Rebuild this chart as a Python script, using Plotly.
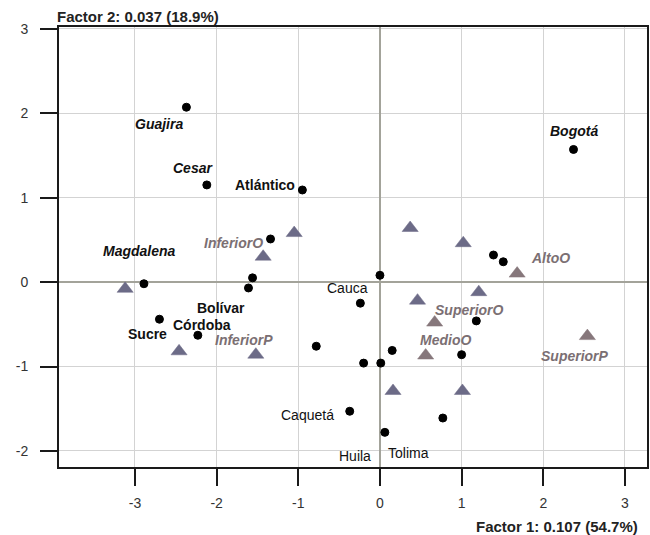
import plotly.graph_objects as go

# Department scores on the first two factors
dept_x = [-2.37, -2.12, -0.95, -1.34, -1.56, -1.61, -2.89, -2.70, -2.23, -0.78,
          0.00, -0.24, 1.39, 1.51, 1.18, 0.15, 1.00, -0.20, 0.01, -0.37,
          0.77, 0.06, 2.37]
dept_y = [2.07, 1.15, 1.09, 0.51, 0.05, -0.07, -0.02, -0.44, -0.63, -0.76,
          0.08, -0.25, 0.32, 0.24, -0.46, -0.81, -0.86, -0.96, -0.96, -1.53,
          -1.61, -1.78, 1.57]

# Modality scores (two groups of triangles)
mod_a_x = [-3.12, -1.43, -1.05, -2.46, -1.52, 0.37, 1.02, 1.21, 0.46, 0.16, 1.01]
mod_a_y = [-0.08, 0.30, 0.58, -0.82, -0.86, 0.64, 0.46, -0.12, -0.22, -1.29, -1.29]
mod_b_x = [1.68, 0.67, 0.56, 2.54]
mod_b_y = [0.10, -0.48, -0.87, -0.64]

# Point labels: text, position, style
lab_text = ["Guajira", "Cesar", "Atlántico", "Bogotá", "Magdalena", "Bolívar",
            "Córdoba", "Sucre", "Cauca", "Caquetá", "Huila", "Tolima",
            "InferiorO", "InferiorP", "AltoO", "SuperiorO", "MedioO", "SuperiorP"]
lab_x = [-2.71, -2.29, -1.41, 2.38, -2.94, -1.95, -2.18, -2.85, -0.40, -0.89,
         -0.30, 0.35, -1.79, -1.67, 2.09, 1.10, 0.80, 2.39]
lab_y = [1.87, 1.35, 1.15, 1.79, 0.37, -0.31, -0.51, -0.62, -0.07, -1.58,
         -2.06, -2.02, 0.46, -0.69, 0.29, -0.33, -0.69, -0.87]
lab_style = ["bi", "bi", "b", "bi", "bi", "b", "b", "b", "r", "r", "r", "r",
             "m", "m", "m", "m", "m", "m"]

x_ticks = [-3, -2, -1, 0, 1, 2, 3]
x_tick_text = ["-3", "-2", "-1", "0", "1", "2", "3"]
y_ticks = [-2, -1, 0, 1, 2, 3]
y_tick_text = ["-2", "-1", "0", "1", "2", "3"]

FONT = "Arial, Liberation Sans, sans-serif"
BLUE = "#6c6b87"
BROWN = "#86777b"
MOD_TEXT = "#7b6f73"

fig = go.Figure()

fig.add_trace(go.Scatter(
    x=mod_a_x, y=mod_a_y, mode="markers",
    marker=dict(symbol="triangle-up", size=14, color=BLUE,
                line=dict(color=BLUE, width=0.5)),
    hoverinfo="skip", showlegend=False))
fig.add_trace(go.Scatter(
    x=mod_b_x, y=mod_b_y, mode="markers",
    marker=dict(symbol="triangle-up", size=14, color=BROWN,
                line=dict(color=BROWN, width=0.5)),
    hoverinfo="skip", showlegend=False))
fig.add_trace(go.Scatter(
    x=dept_x, y=dept_y, mode="markers",
    marker=dict(symbol="circle", size=8, color="#000000",
                line=dict(color="#000000", width=1)),
    hoverinfo="skip", showlegend=False))

annotations = []
for t, x, y, s in zip(lab_text, lab_x, lab_y, lab_style):
    if s == "bi":
        txt, col = f"<b><i>{t}</i></b>", "#111111"
    elif s == "b":
        txt, col = f"<b>{t}</b>", "#111111"
    elif s == "m":
        txt, col = f"<b><i>{t}</i></b>", MOD_TEXT
    else:
        txt, col = t, "#111111"
    annotations.append(dict(x=x, y=y, xref="x", yref="y", text=txt,
                            showarrow=False, xanchor="center", yanchor="middle",
                            font=dict(family=FONT, size=14, color=col)))

annotations.append(dict(x=-0.007, y=1.025, xref="paper", yref="paper",
                        text="<b>Factor 2: 0.037 (18.9%)</b>", showarrow=False,
                        xanchor="left", yanchor="middle",
                        font=dict(family=FONT, size=15, color="#222222")))
annotations.append(dict(x=0.988, y=-0.136, xref="paper", yref="paper",
                        text="<b>Factor 1: 0.107 (54.7%)</b>", showarrow=False,
                        xanchor="right", yanchor="middle",
                        font=dict(family=FONT, size=15, color="#222222")))

axis_common = dict(
    showgrid=True, gridcolor="#d3d3d3", gridwidth=1.2,
    zeroline=True, zerolinecolor="#a3a39a", zerolinewidth=1.6,
    showline=True, linecolor="#1a1a1a", linewidth=2, mirror=True,
    ticks="outside", ticklen=17, tickwidth=2, tickcolor="#1a1a1a",
    tickfont=dict(family=FONT, size=14, color="#333333"),
)

fig.update_layout(
    width=650, height=535,
    margin=dict(l=59, r=1, t=27, b=68),
    paper_bgcolor="white", plot_bgcolor="white",
    xaxis=dict(range=[-3.93, 3.27], tickvals=x_ticks, ticktext=x_tick_text,
               ticklabelstandoff=5, **axis_common),
    yaxis=dict(range=[-2.19, 3.02], tickvals=y_ticks, ticktext=y_tick_text,
               ticklabelstandoff=9, **axis_common),
    annotations=annotations,
)

fig.write_html("out.html")
